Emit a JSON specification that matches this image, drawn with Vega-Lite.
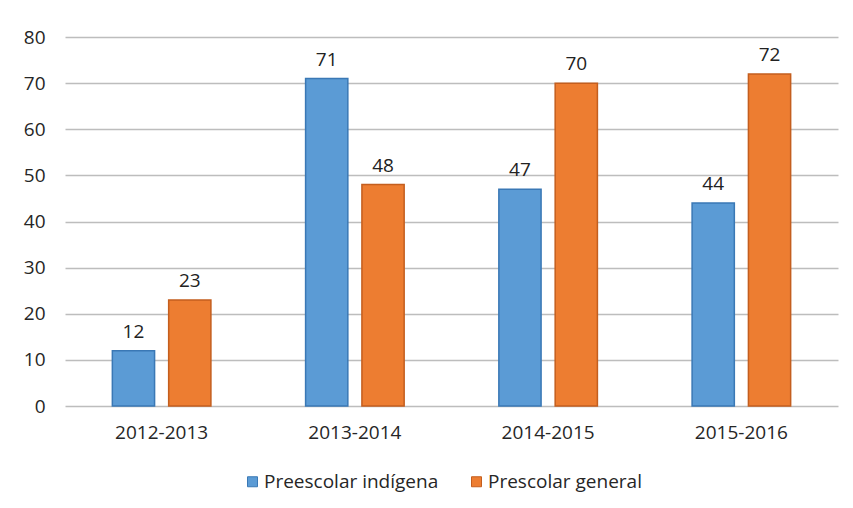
{
  "$schema": "https://vega.github.io/schema/vega-lite/v6.json",
  "width": 773,
  "height": 369,
  "autosize": {"type": "none"},
  "padding": {"left": 65, "top": 37, "right": 15, "bottom": 102},
  "background": "white",
  "data": {
    "values": [
      {"ciclo": "2012-2013", "serie": "Preescolar indígena", "valor": 12},
      {"ciclo": "2012-2013", "serie": "Prescolar general", "valor": 23},
      {"ciclo": "2013-2014", "serie": "Preescolar indígena", "valor": 71},
      {"ciclo": "2013-2014", "serie": "Prescolar general", "valor": 48},
      {"ciclo": "2014-2015", "serie": "Preescolar indígena", "valor": 47},
      {"ciclo": "2014-2015", "serie": "Prescolar general", "valor": 70},
      {"ciclo": "2015-2016", "serie": "Preescolar indígena", "valor": 44},
      {"ciclo": "2015-2016", "serie": "Prescolar general", "valor": 72}
    ]
  },
  "config": {
    "view": {"stroke": null},
    "font": "Open Sans",
    "axis": {"labelFont": "Open Sans", "labelFontSize": 19, "labelColor": "#262626"},
    "legend": {"labelFont": "Open Sans", "labelFontSize": 19, "labelColor": "#262626", "labelLimit": 400}
  },
  "encoding": {
    "x": {
      "field": "ciclo", "type": "nominal", "title": null,
      "scale": {"paddingInner": 0.49, "paddingOuter": 0.245},
      "axis": {"labelAngle": 0, "domain": false, "ticks": false, "labelPadding": 17}
    },
    "xOffset": {
      "field": "serie", "type": "nominal",
      "scale": {"paddingInner": 0.25, "paddingOuter": 0}
    },
    "y": {
      "field": "valor", "type": "quantitative", "title": null,
      "scale": {"domain": [0, 80], "nice": false},
      "axis": {"values": [0,10,20,30,40,50,60,70,80], "labelOverlap": false, "domain": false, "ticks": false, "labelPadding": 20, "gridColor": "#bdbdbd", "gridWidth": 1.5}
    }
  },
  "layer": [
    {
      "mark": {"type": "bar", "strokeWidth": 1.5},
      "encoding": {
        "color": {
          "field": "serie", "type": "nominal",
          "scale": {"domain": ["Preescolar indígena", "Prescolar general"], "range": ["#5B9BD5", "#ED7D31"]},
          "legend": {
            "title": null, "orient": "none", "direction": "horizontal",
            "legendX": 178, "legendY": 435,
            "symbolType": "square", "symbolSize": 100, "symbolStrokeWidth": 1,
            "labelOffset": 2, "columnPadding": 28
          }
        },
        "stroke": {
          "field": "serie", "type": "nominal",
          "scale": {"domain": ["Preescolar indígena", "Prescolar general"], "range": ["#3A78B5", "#C45E1E"]},
          "legend": null
        }
      }
    },
    {
      "mark": {"type": "text", "baseline": "bottom", "dy": -9, "fontSize": 19, "color": "#222222"},
      "encoding": {"text": {"field": "valor", "type": "quantitative"}}
    }
  ]
}
